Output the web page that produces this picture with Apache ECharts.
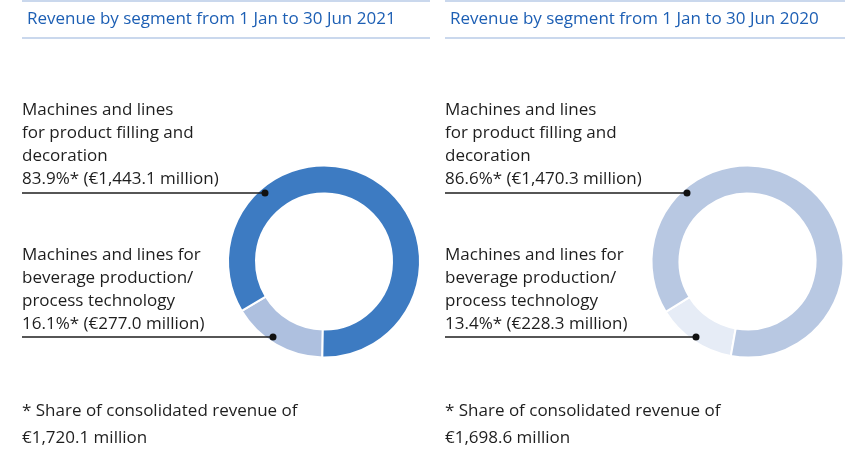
<!DOCTYPE html>
<html>
<head>
<meta charset="utf-8">
<script src="https://cdn.jsdelivr.net/npm/echarts@6/dist/echarts.min.js"></script>
<style>
  html, body { margin: 0; padding: 0; background: #ffffff; }
  #chart { width: 852px; height: 449px; }
</style>
</head>
<body>
<div id="chart"></div>
<script>
// Segment revenue, H1 2021 vs H1 2020 (€ million and share of group revenue)
const segmentNames = [
  'Machines and lines for beverage production/process technology',
  'Machines and lines for product filling and decoration'
];
const revenue2021 = [277.0, 1443.1];
const revenue2020 = [228.3, 1470.3];
const share2021 = [16.1, 83.9];
const share2020 = [13.4, 86.6];
const total2021 = '€1,720.1 million';
const total2020 = '€1,698.6 million';
const titles = [
  'Revenue by segment from 1 Jan to 30 Jun 2021',
  'Revenue by segment from 1 Jan to 30 Jun 2020'
];

const FONT = '"Open Sans", "Noto Sans", sans-serif';
const SIZE = 17;
const TEXT = '#1e1e1e';
const colors2021 = ['#aec0df', '#3d7bc2'];
const colors2020 = ['#e6ecf6', '#b8c8e2'];

const fmt = v => v.toLocaleString('en-US', { minimumFractionDigits: 1, maximumFractionDigits: 1 });

function textEl(x, y, t) {
  return {
    type: 'text', x: x, y: y,
    style: { text: t, font: SIZE + 'px ' + FONT, fill: TEXT, textVerticalAlign: 'middle' }
  };
}

function panel(x0, x1, share, revenue) {
  const g = [];
  // rules above and below the title
  [1, 38].forEach(y => g.push({
    type: 'line', shape: { x1: x0, y1: y, x2: x1, y2: y },
    style: { stroke: '#b9cbe7', lineWidth: 1.5 }
  }));
  const block = (lines, yStart) => lines.forEach((t, i) => g.push(textEl(x0, yStart + i * 23, t)));
  block(['Machines and lines', 'for product filling and', 'decoration',
    share[1].toFixed(1) + '%* (€' + fmt(revenue[1]) + ' million)'], 110);
  block(['Machines and lines for', 'beverage production/', 'process technology',
    share[0].toFixed(1) + '%* (€' + fmt(revenue[0]) + ' million)'], 255);
  return g;
}

function leader(x0, xDot, y) {
  return [
    { type: 'line', z: 10, shape: { x1: x0, y1: y, x2: xDot, y2: y },
      style: { stroke: '#1e1e1e', lineWidth: 1.5 } },
    { type: 'circle', z: 10, shape: { cx: xDot, cy: y, r: 3.5 }, style: { fill: '#111' } }
  ];
}

function footnote(x0, total) {
  return [
    textEl(x0, 411, '* Share of consolidated revenue of'),
    textEl(x0, 438, total)
  ];
}

function donut(center, startAngle, values, colors) {
  return {
    type: 'pie',
    center: center,
    radius: [68, 96],
    startAngle: startAngle,
    clockwise: true,
    silent: true,
    label: { show: false },
    labelLine: { show: false },
    itemStyle: { borderColor: '#ffffff', borderWidth: 2 },
    data: values.map((v, i) => ({ name: segmentNames[i], value: v, itemStyle: { color: colors[i] } }))
  };
}

const chart = echarts.init(document.getElementById('chart'), null, { renderer: 'canvas' });
chart.setOption({
  backgroundColor: '#ffffff',
  animation: false,
  title: [
    { text: titles[0], left: 22, top: 6, textStyle: { fontFamily: FONT, fontSize: SIZE, fontWeight: 'normal', color: '#1d5fb4' } },
    { text: titles[1], left: 445, top: 6, textStyle: { fontFamily: FONT, fontSize: SIZE, fontWeight: 'normal', color: '#1d5fb4' } }
  ],
  series: [
    donut([324, 261.5], 269, revenue2021, colors2021),
    donut([747.5, 261.5], 260, revenue2020, colors2020)
  ],
  graphic: [
    ...panel(22, 430, share2021, revenue2021),
    ...panel(445, 845, share2020, revenue2020),
    ...leader(22, 265, 193),
    ...leader(22, 273, 337),
    ...leader(445, 687, 193),
    ...leader(445, 696, 337),
    ...footnote(22, total2021),
    ...footnote(445, total2020)
  ]
});
</script>
</body>
</html>
